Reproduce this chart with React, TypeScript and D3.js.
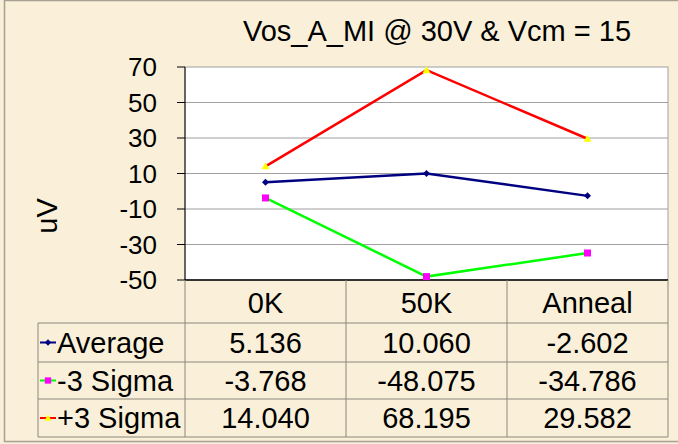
import React from "react";
import * as d3 from "d3";

const categories = ["0K", "50K", "Anneal"];
const seriesNames = ["Average", "-3 Sigma", "+3 Sigma"];
const averageValues = [5.136, 10.06, -2.602];
const minus3SigmaValues = [-3.768, -48.075, -34.786];
const plus3SigmaValues = [14.04, 68.195, 29.582];
const tableText = [
  ["5.136", "10.060", "-2.602"],
  ["-3.768", "-48.075", "-34.786"],
  ["14.040", "68.195", "29.582"],
];
const yTicks = [-50, -30, -10, 10, 30, 50, 70];
const title = "Vos_A_MI @ 30V & Vcm = 15";
const yLabel = "uV";

const W = 678, H = 444;
const plotL = 185, plotR = 668, plotT = 67, plotB = 280;
const rowLines = [323, 362, 399, 437];
const tableLeft = 38;
const FONT = "'Liberation Sans', Arial, sans-serif";
const BIG = 29;

export default function App() {
  const x = d3.scaleBand<string>().domain(categories).range([plotL, plotR]);
  const y = d3.scaleLinear().domain([-50, 70]).range([plotB, plotT]);
  const cx = (c: string) => (x(c) as number) + x.bandwidth() / 2;
  const line = d3
    .line<number>()
    .x((_, i) => cx(categories[i]))
    .y((v) => y(v));

  const series = [
    { name: seriesNames[0], values: averageValues, color: "#000080", marker: "diamond" },
    { name: seriesNames[1], values: minus3SigmaValues, color: "#00FF00", marker: "square" },
    { name: seriesNames[2], values: plus3SigmaValues, color: "#FF0000", marker: "triangle" },
  ];

  const marker = (kind: string, px: number, py: number, key: string | number, scale = 1) => {
    if (kind === "diamond") {
      const s = 3.5 * scale;
      return (
        <path key={key} d={`M${px},${py - s}L${px + s},${py}L${px},${py + s}L${px - s},${py}Z`} fill="#000080" />
      );
    }
    if (kind === "square") {
      const s = 3.5 * scale;
      return <rect key={key} x={px - s} y={py - s} width={2 * s} height={2 * s} fill="#FF00FF" />;
    }
    const s = 4 * scale;
    return (
      <path key={key} d={`M${px},${py - s}L${px + s},${py + s * 0.75}L${px - s},${py + s * 0.75}Z`} fill="#FFFF00" />
    );
  };

  const colEdges = [plotL, ...categories.map((c) => (x(c) as number) + x.bandwidth())];

  return (
    <svg
      width={W}
      height={H}
      style={{ position: "absolute", left: 0, top: 0, fontFamily: FONT }}
    >
      <rect x={0} y={0} width={W} height={H} fill="#FAF0D9" />
      <rect x={4.5} y={0.5} width={W} height={441} fill="none" stroke="#A8A095" strokeWidth={1.5} />
      <text x={437} y={41} textAnchor="middle" fontSize={BIG} fill="#000">
        {title}
      </text>

      <rect x={plotL} y={plotT} width={plotR - plotL} height={plotB - plotT} fill="#fff" stroke="#A0A0A0" />
      {yTicks.slice(1, -1).map((t) => (
        <line key={t} x1={plotL} x2={plotR} y1={y(t)} y2={y(t)} stroke="#A0A0A0" strokeWidth={1.2} />
      ))}
      <line x1={plotL} x2={plotL} y1={plotT} y2={plotB} stroke="#000" />
      <line x1={plotL} x2={plotR} y1={plotB} y2={plotB} stroke="#000" strokeWidth={1.5} />
      {yTicks.map((t) => (
        <g key={t}>
          <line x1={plotL - 8} x2={plotL} y1={y(t)} y2={y(t)} stroke="#000" />
          <text x={157} y={y(t)} dy="0.36em" textAnchor="end" fontSize={26} fill="#000">
            {t}
          </text>
        </g>
      ))}
      <text
        transform={`translate(47,216) rotate(-90)`}
        textAnchor="middle"
        dy="0.36em"
        fontSize={BIG}
        fill="#000"
      >
        {yLabel}
      </text>

      {series.map((s) => (
        <path key={s.name} d={line(s.values) || ""} fill="none" stroke={s.color} strokeWidth={2.5} />
      ))}
      {series.map((s) =>
        s.values.map((v, i) => marker(s.marker, cx(categories[i]), y(v), s.name + i))
      )}

      {/* data table */}
      {colEdges.map((cxe, i) => (
        <line key={"v" + i} x1={cxe} x2={cxe} y1={plotB} y2={rowLines[3]} stroke="#8C867C" />
      ))}
      <line x1={tableLeft} x2={tableLeft} y1={rowLines[0]} y2={rowLines[3]} stroke="#8C867C" />
      {rowLines.map((ry, i) => (
        <line key={"h" + i} x1={tableLeft} x2={plotR} y1={ry} y2={ry} stroke="#8C867C" />
      ))}
      {categories.map((c) => (
        <text key={c} x={cx(c)} y={313} textAnchor="middle" fontSize={BIG} fill="#000">
          {c}
        </text>
      ))}
      {series.map((s, r) => {
        const top = rowLines[r];
        const bot = rowLines[r + 1];
        const mid = (top + bot) / 2;
        return (
          <g key={"row" + r}>
            <line x1={40} x2={56} y1={mid} y2={mid} stroke={s.color} strokeWidth={2} />
            {marker(s.marker, 48, mid, "lm" + r, 0.9)}
            <text x={57} y={mid} dy="0.36em" fontSize={BIG} fill="#000">
              {s.name}
            </text>
            {categories.map((c, i) => (
              <text key={c} x={cx(c)} y={mid} dy="0.36em" textAnchor="middle" fontSize={BIG} fill="#000">
                {tableText[r][i]}
              </text>
            ))}
          </g>
        );
      })}
    </svg>
  );
}
